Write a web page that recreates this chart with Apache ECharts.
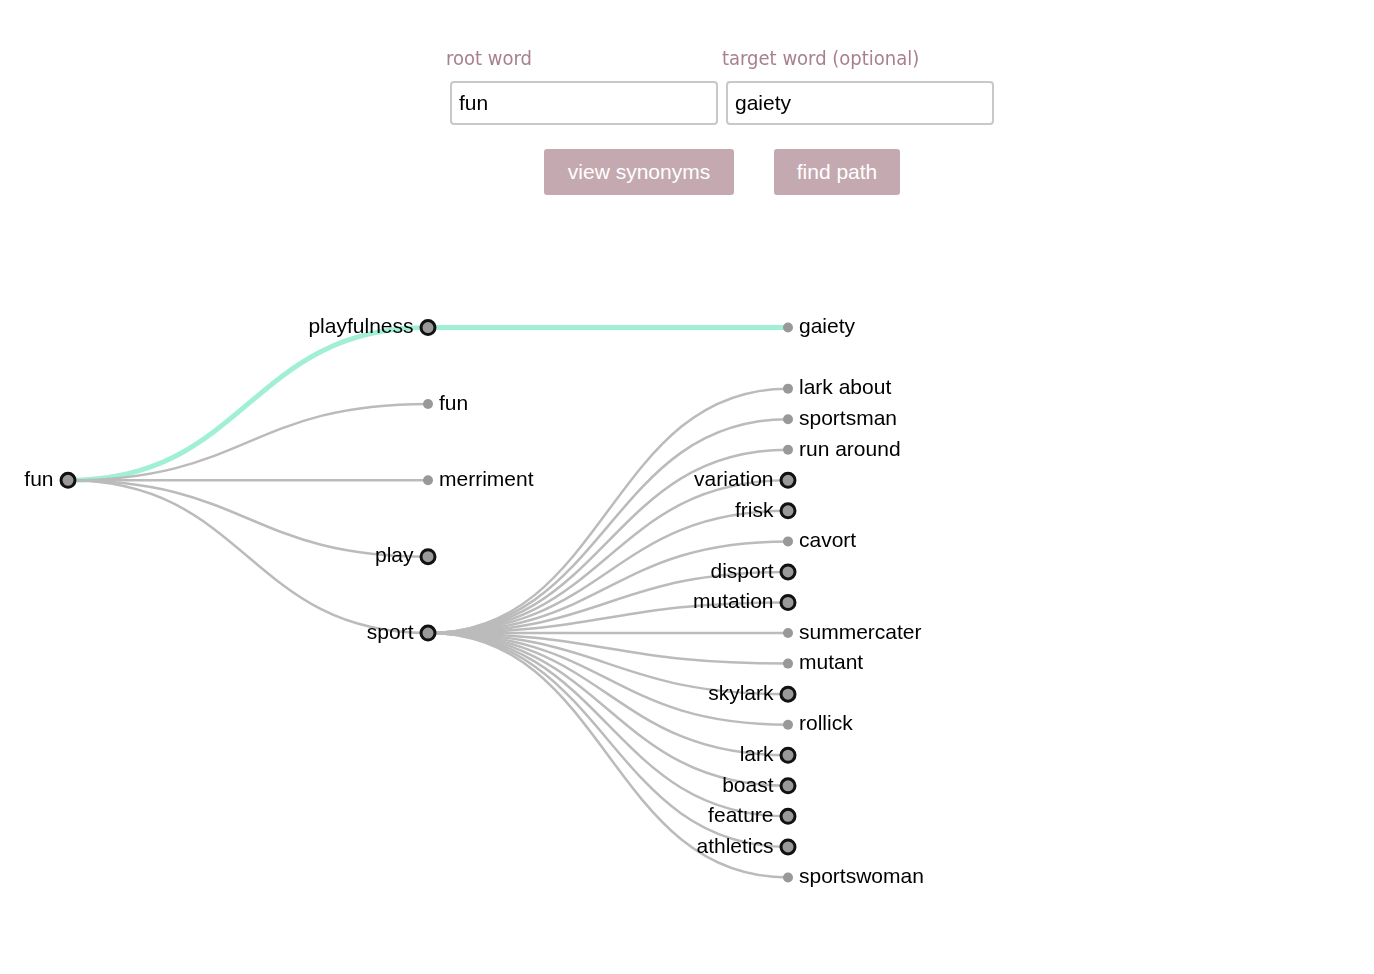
<!DOCTYPE html>
<html>
<head>
<meta charset="utf-8">
<script src="https://cdn.jsdelivr.net/npm/echarts@6/dist/echarts.min.js"></script>
<style>
  html, body { margin: 0; padding: 0; background: #fff; width: 1374px; height: 974px; overflow: hidden; }
  #chart { position: absolute; left: 0; top: 0; width: 1374px; height: 974px; }
  .lbl { position: absolute; top: 46px; font-family: "DejaVu Sans Condensed", "DejaVu Sans", sans-serif; font-size: 20px; color: #a8808c; }
  .inp { position: absolute; top: 81px; width: 262px; height: 40px; border: 2px solid #c8c8c8; border-radius: 4px;
         font-family: "Liberation Sans", Arial, sans-serif; font-size: 21px; line-height: 40px; padding-left: 7px; box-sizing: border-box; height: 44px; color: #000; }
  .btn { position: absolute; top: 149px; height: 46px; background: #c4a9b0; color: #fff; border-radius: 3px;
         font-family: "Liberation Sans", Arial, sans-serif; font-size: 21px; line-height: 46px; text-align: center; }
</style>
</head>
<body>
<div id="chart"></div>
<div class="lbl" style="left:446px">root word</div>
<div class="lbl" style="left:722px">target word (optional)</div>
<div class="inp" style="left:450px;width:268px">fun</div>
<div class="inp" style="left:726px;width:268px">gaiety</div>
<div class="btn" style="left:544px;width:190px">view synonyms</div>
<div class="btn" style="left:774px;width:126px">find path</div>
<script>
// tree data
const rootWord = 'fun';
const level1 = ['playfulness', 'fun', 'merriment', 'play', 'sport'];
const playfulnessChildren = ['gaiety'];
const sportChildren = ['lark about', 'sportsman', 'run around', 'variation', 'frisk', 'cavort', 'disport',
  'mutation', 'summercater', 'mutant', 'skylark', 'rollick', 'lark', 'boast', 'feature', 'athletics', 'sportswoman'];
// words that have their own synonyms (drawn as ringed nodes)
const expandable = ['playfulness', 'play', 'sport', 'variation', 'frisk', 'disport', 'mutation',
  'skylark', 'lark', 'boast', 'feature', 'athletics'];
const pathWords = ['playfulness', 'gaiety'];

function node(name, children, depth) {
  const ring = depth === 0 || expandable.includes(name);
  const onPath = (depth === 1 && name === pathWords[0]) || (depth === 2 && name === pathWords[1]);
  const item = {
    name: name,
    symbolSize: ring ? 14 : 10,
    itemStyle: ring ? { color: '#999', borderColor: '#111', borderWidth: 3 } : { color: '#999', borderWidth: 0 },
    label: ring ? { position: 'left', align: 'right', distance: 6 } : { position: 'right', align: 'left', distance: 6 },
    lineStyle: onPath ? { color: '#a1f0d6', width: 5 } : { color: '#bbb', width: 2.5 }
  };
  if (children) item.children = children;
  return item;
}

const treeData = node(rootWord, level1.map(w => {
  if (w === 'playfulness') return node(w, playfulnessChildren.map(c => node(c, null, 2)), 1);
  if (w === 'sport') return node(w, sportChildren.map(c => node(c, null, 2)), 1);
  return node(w, null, 1);
}), 0);

const chart = echarts.init(document.getElementById('chart'));
chart.setOption({
  animation: false,
  series: [{
    type: 'tree',
    data: [treeData],
    orient: 'LR',
    left: 68, right: 586, top: 297, bottom: 66,
    edgeShape: 'curve',
    symbol: 'circle',
    expandAndCollapse: false,
    roam: false,
    label: { color: '#000', fontSize: 21, fontFamily: 'Liberation Sans, Arial, sans-serif', verticalAlign: 'middle' },
    lineStyle: { curveness: 0.5 },
    emphasis: { disabled: true }
  }]
});
</script>
</body>
</html>
